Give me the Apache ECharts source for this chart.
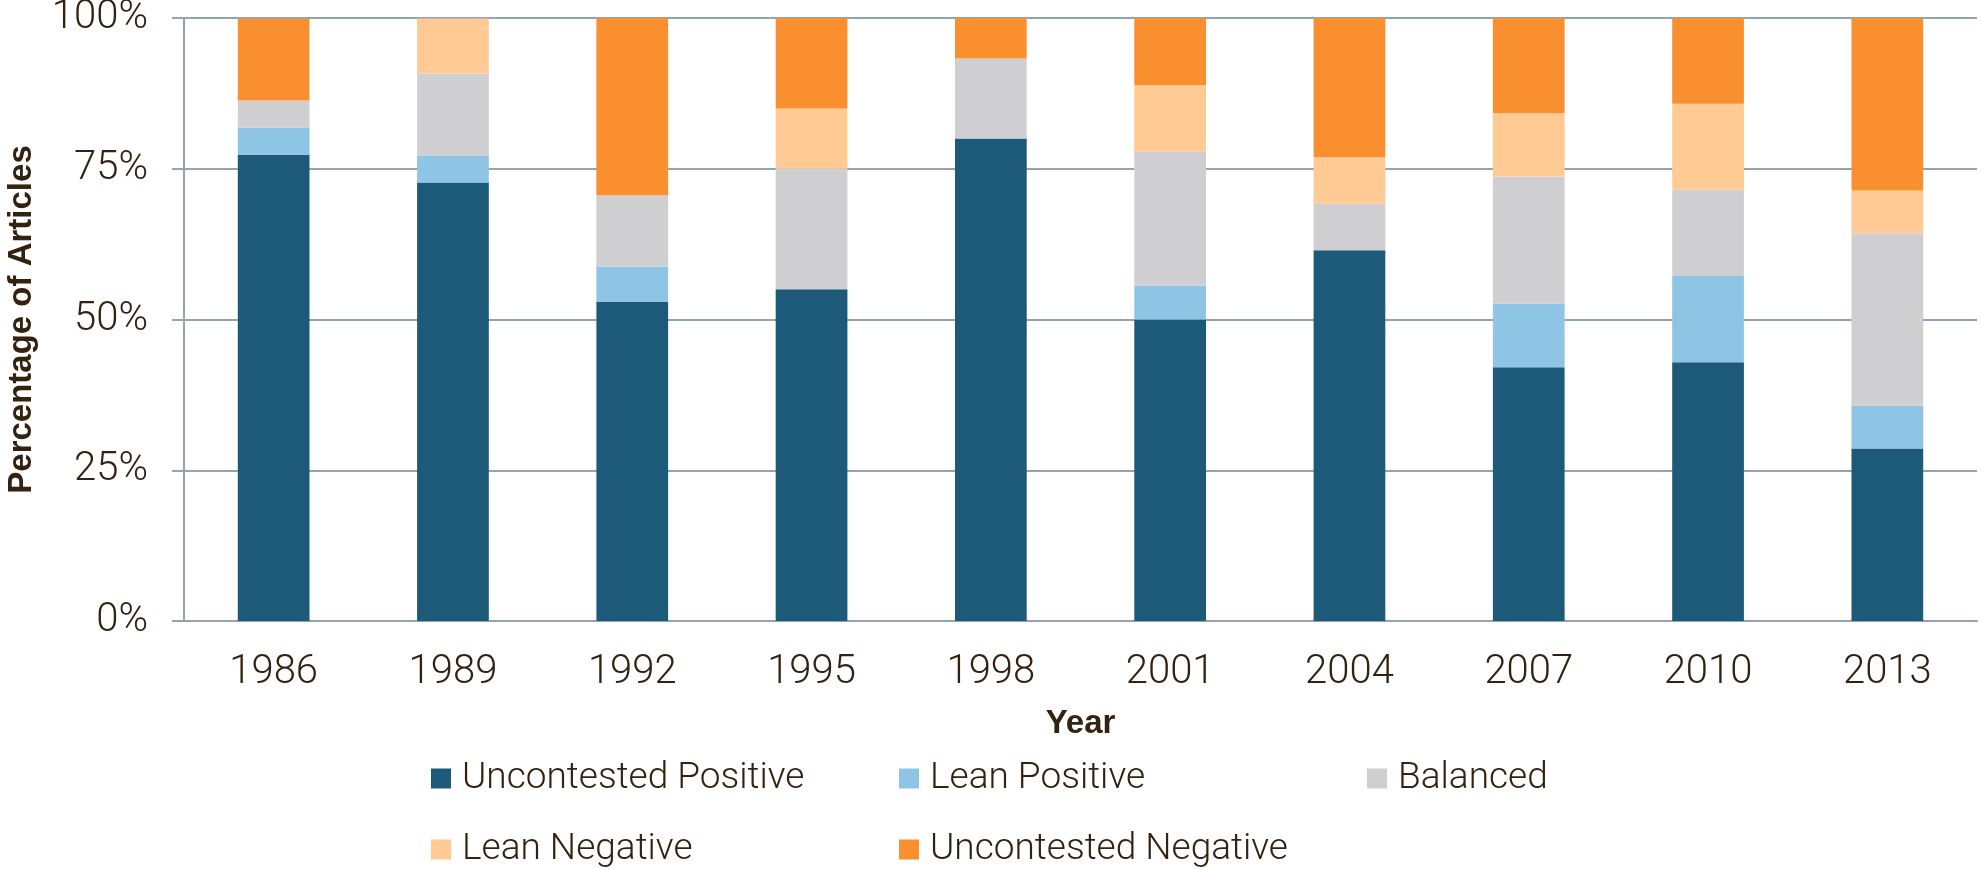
<!DOCTYPE html>
<html>
<head>
<meta charset="utf-8">
<script src="https://cdn.jsdelivr.net/npm/echarts@6/dist/echarts.min.js"></script>
<style>
  html, body { margin: 0; padding: 0; background: #fff; }
  #chart { width: 1982px; height: 869px; }
</style>
</head>
<body>
<div id="chart"></div>
<script>
    // values, in percent
    var years = ['1986', '1989', '1992', '1995', '1998', '2001', '2004', '2007', '2010', '2013'];
    var uncontestedPositive = [77.3, 72.7, 52.9, 55.0, 80.0, 50.0, 61.5, 42.1, 42.9, 28.6];
    var leanPositive = [4.5, 4.5, 5.9, 0, 0, 5.6, 0, 10.5, 14.3, 7.1];
    var balanced = [4.5, 13.6, 11.8, 20.0, 13.3, 22.2, 7.7, 21.1, 14.3, 28.6];
    var leanNegative = [0, 9.1, 0, 10.0, 0, 11.1, 7.7, 10.5, 14.3, 7.1];
    var uncontestedNegative = [13.6, 0, 29.4, 15.0, 6.7, 11.1, 23.1, 15.8, 14.3, 28.6];

    var textColor = '#33220f';
    var lineColor = '#94a3b3';
    var lightFont = 'Roboto';
    var boldFont = '"Liberation Sans", Arial, sans-serif';

    function bar(name, data, color) {
        return {
            type: 'bar',
            name: name,
            stack: 'all',
            data: data,
            barCategoryGap: '60%',
            itemStyle: {color: color}
        };
    }

    // one legend per entry so the entries sit on a fixed 3-column grid
    function legendItem(name, left, top) {
        return {
            left: left,
            top: top,
            padding: 0,
            icon: 'rect',
            itemWidth: 20,
            itemHeight: 20,
            selectedMode: false,
            data: [name],
            textStyle: {
                color: textColor,
                fontFamily: lightFont,
                fontWeight: 300,
                fontSize: 37,
                lineHeight: 20,
                padding: [0, 0, 0, 6]
            }
        };
    }

    var myChart = echarts.init(document.getElementById('chart'));
    myChart.setOption({
        animation: false,
        grid: {
            left: 184,
            right: 5,
            top: 18,
            bottom: 248,
            outerBoundsMode: 'none'
        },
        legend: [
            legendItem('Uncontested Positive', 431, 760),
            legendItem('Lean Positive', 899, 760),
            legendItem('Balanced', 1367, 760),
            legendItem('Lean Negative', 431, 831),
            legendItem('Uncontested Negative', 899, 831)
        ],
        xAxis: {
            type: 'category',
            data: years,
            name: 'Year',
            nameLocation: 'middle',
            nameGap: 86,
            nameTextStyle: {
                color: textColor,
                fontFamily: boldFont,
                fontWeight: 'bold',
                fontSize: 33
            },
            axisLine: {lineStyle: {color: lineColor, width: 2}},
            axisTick: {length: 12, lineStyle: {color: lineColor, width: 2}},
            axisLabel: {
                color: textColor,
                fontFamily: lightFont,
                fontWeight: 300,
                fontSize: 40,
                lineHeight: 40,
                margin: 32,
                interval: 0
            }
        },
        yAxis: {
            type: 'value',
            min: 0,
            max: 100,
            interval: 25,
            name: 'Percentage of Articles',
            nameLocation: 'middle',
            nameGap: 146,
            nameTextStyle: {
                color: textColor,
                fontFamily: boldFont,
                fontWeight: 'bold',
                fontSize: 33
            },
            axisLine: {show: true, lineStyle: {color: lineColor, width: 2}},
            axisTick: {show: true, length: 12, lineStyle: {color: lineColor, width: 2}},
            splitLine: {lineStyle: {color: lineColor, width: 2}},
            axisLabel: {
                color: textColor,
                fontFamily: lightFont,
                fontWeight: 300,
                fontSize: 40,
                margin: 36,
                formatter: '{value}%'
            }
        },
        series: [
            bar('Uncontested Positive', uncontestedPositive, '#1d5a7a'),
            bar('Lean Positive', leanPositive, '#8ec4e4'),
            bar('Balanced', balanced, '#cfcfd1'),
            bar('Lean Negative', leanNegative, '#ffca94'),
            bar('Uncontested Negative', uncontestedNegative, '#f98f2e')
        ]
    });
</script>
</body>
</html>
